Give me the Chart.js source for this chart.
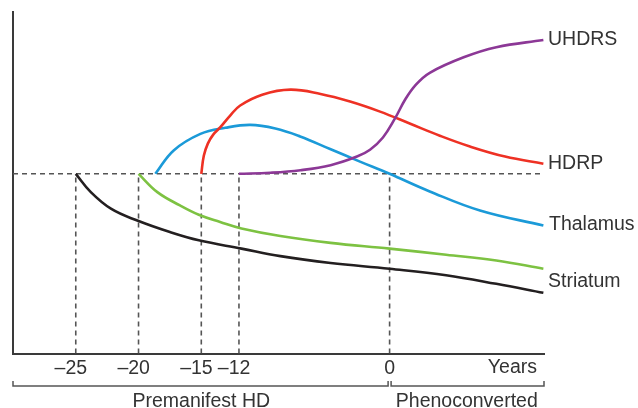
<!DOCTYPE html>
<html>
<head>
<meta charset="utf-8">
<script src="https://cdn.jsdelivr.net/npm/chart.js@4.4.0/dist/chart.umd.min.js"></script>
<style>
  html, body { margin: 0; padding: 0; background: #fff; }
  #wrap { width: 638px; height: 408px; }
</style>
</head>
<body>
<div id="wrap"><canvas id="trajetorias"></canvas></div>
<script>
  // valores (anos x escore arbitrário, linha de base = 50)
  const tickYears = [-25, -20, -15, -12, 0];
  const onsetYears = [-25, -20, -15, -12, 0];
  const baseline = 50;
  const xMin = -30;
  const xMax = 12.3;
  const yMax = 95;

  const uhdrsYears  = [-12, -9.5, -7.1, -4.7, -2.6, -1.56, -0.53, 0.43, 1.23, 2.1, 3.2, 5.9, 8.5, 12.25];
  const uhdrsValues = [50, 50.3, 51.0, 52.4, 54.8, 56.7, 60.1, 65.4, 70.6, 74.8, 78.1, 82.4, 85.2, 87.2];

  const hdrpYears  = [-15, -14.8, -14.48, -14.05, -13.5, -12.7, -11.9, -10.15, -7.9, -5.5, -3.15, -0.76, 1.6, 4.0, 6.4, 9.2, 12.25];
  const hdrpValues = [50, 55.0, 58.4, 60.9, 62.9, 66.2, 69.0, 72.0, 73.4, 72.2, 70.1, 67.3, 64.0, 60.6, 57.6, 54.8, 52.8];

  const thalamusYears  = [-18.66, -17.2, -15.07, -13.08, -11.1, -9.1, -7.13, -4.74, -2.36, 0, 3.2, 7.2, 12.25];
  const thalamusValues = [50, 56.5, 61.1, 62.8, 63.6, 62.6, 60.4, 56.9, 53.4, 50, 45.1, 39.8, 35.6];

  const striatumGreenYears  = [-20, -18.5, -16.7, -15.2, -13.5, -11.8, -8.7, -4.7, 0, 4.5, 8.5, 12.25];
  const striatumGreenValues = [50, 44.9, 41.2, 38.6, 36.6, 34.8, 32.7, 30.8, 29.2, 27.5, 25.9, 23.6];

  const striatumBlackYears  = [-25, -23.8, -22.2, -20.1, -17.5, -15.2, -11.8, -8.7, -4.7, 0, 4.5, 8.5, 12.25];
  const striatumBlackValues = [50, 44.9, 40.3, 37.0, 33.8, 31.5, 29.2, 27.1, 25.2, 23.6, 21.8, 19.4, 16.9];

  const endLabels = ['UHDRS', 'HDRP', 'Thalamus', 'Striatum'];
  const phaseLabels = ['Premanifest HD', 'Phenoconverted'];
  const axisLabel = 'Years';

  const pts = (xs, ys) => xs.map((v, i) => ({ x: v, y: ys[i] }));

  const FONTE = '"Liberation Sans", Arial, sans-serif';
  const TEXTO = '#333';
  const TRACO = '#555';
  const TAM = 19.5;

  Chart.defaults.font.family = FONTE;
  Chart.defaults.font.size = TAM;
  Chart.defaults.color = TEXTO;

  function serie(label, xs, ys, cor) {
    return {
      label: label,
      data: pts(xs, ys),
      borderColor: cor,
      borderWidth: 2.6,
      pointRadius: 0,
      fill: false,
      tension: 0.4
    };
  }

  function guia(data) {
    return {
      label: 'guia',
      data: data,
      borderColor: TRACO,
      borderWidth: 1.6,
      borderDash: [5, 4],
      pointRadius: 0,
      fill: false,
      tension: 0
    };
  }

  const guias = onsetYears.map(a => guia([{ x: a, y: 0 }, { x: a, y: baseline }]));
  guias.push(guia([{ x: xMin, y: baseline }, { x: 12.25, y: baseline }]));

  // rótulos à direita, colchetes das fases e "Years"
  const rotulos = {
    id: 'rotulos',
    afterDraw(chart) {
      const { ctx, chartArea, scales: { x, y } } = chart;
      ctx.save();
      ctx.font = TAM + 'px ' + FONTE;
      ctx.fillStyle = TEXTO;
      ctx.textBaseline = 'middle';

      const lx = chartArea.right + 4;
      ctx.textAlign = 'left';
      ctx.fillText(endLabels[0], lx, y.getPixelForValue(uhdrsValues[uhdrsValues.length - 1]));
      ctx.fillText(endLabels[1], lx, y.getPixelForValue(hdrpValues[hdrpValues.length - 1]));
      ctx.fillText(endLabels[2], lx + 1, y.getPixelForValue(thalamusValues[thalamusValues.length - 1]) - 1);
      const sg = y.getPixelForValue(striatumGreenValues[striatumGreenValues.length - 1]);
      const sb = y.getPixelForValue(striatumBlackValues[striatumBlackValues.length - 1]);
      ctx.fillText(endLabels[3], lx, (sg + sb) / 2 + 1);

      // "Years" no fim do eixo
      ctx.textAlign = 'right';
      ctx.fillText(axisLabel, chartArea.right - 7, chartArea.bottom + 14);

      // colchetes
      const by = chartArea.bottom + 32.5;
      const mid = x.getPixelForValue(0);
      const l = chartArea.left, r = chartArea.right;
      ctx.strokeStyle = TRACO;
      ctx.lineWidth = 1.5;
      ctx.beginPath();
      ctx.moveTo(l, by - 5); ctx.lineTo(l, by); ctx.lineTo(mid - 1.5, by); ctx.lineTo(mid - 1.5, by - 5);
      ctx.moveTo(mid + 1.5, by - 5); ctx.lineTo(mid + 1.5, by); ctx.lineTo(r, by); ctx.lineTo(r, by - 5);
      ctx.stroke();

      ctx.textAlign = 'center';
      ctx.fillText(phaseLabels[0], (l + mid) / 2, by + 16);
      ctx.fillText(phaseLabels[1], (mid + r) / 2, by + 16);
      ctx.restore();
    }
  };

  const trajetorias = document.getElementById('trajetorias');

  new Chart(trajetorias, {
    type: 'line',
    data: {
      datasets: [
        serie('UHDRS', uhdrsYears, uhdrsValues, '#8C3896'),
        serie('HDRP', hdrpYears, hdrpValues, '#EE3124'),
        serie('Thalamus', thalamusYears, thalamusValues, '#1B9AD8'),
        serie('Striatum (verde)', striatumGreenYears, striatumGreenValues, '#7DC242'),
        serie('Striatum', striatumBlackYears, striatumBlackValues, '#231F20'),
        ...guias
      ]
    },
    options: {
      responsive: true,
      maintainAspectRatio: false,
      animation: false,
      layout: { padding: { left: 13, right: 94, top: 12, bottom: 25 } },
      plugins: {
        legend: { display: false },
        tooltip: { enabled: false }
      },
      scales: {
        x: {
          type: 'linear',
          min: xMin,
          max: xMax,
          grid: { display: false, drawTicks: false },
          border: { display: true, color: '#3a3a3a', width: 2 },
          afterBuildTicks: (axis) => { axis.ticks = tickYears.map(v => ({ value: v })); },
          ticks: {
            padding: 3,
            maxRotation: 0,
            autoSkip: false,
            color: TEXTO,
            // o sinal fica à esquerda, os dígitos centrados na linha
            callback: (v) => v < 0 ? '\u2013' + Math.abs(v) + '\u2002' : String(v)
          }
        },
        y: {
          type: 'linear',
          min: 0,
          max: yMax,
          grid: { display: false, drawTicks: false },
          border: { display: true, color: '#3a3a3a', width: 2 },
          ticks: { display: false }
        }
      }
    },
    plugins: [rotulos]
  });
</script>
</body>
</html>
